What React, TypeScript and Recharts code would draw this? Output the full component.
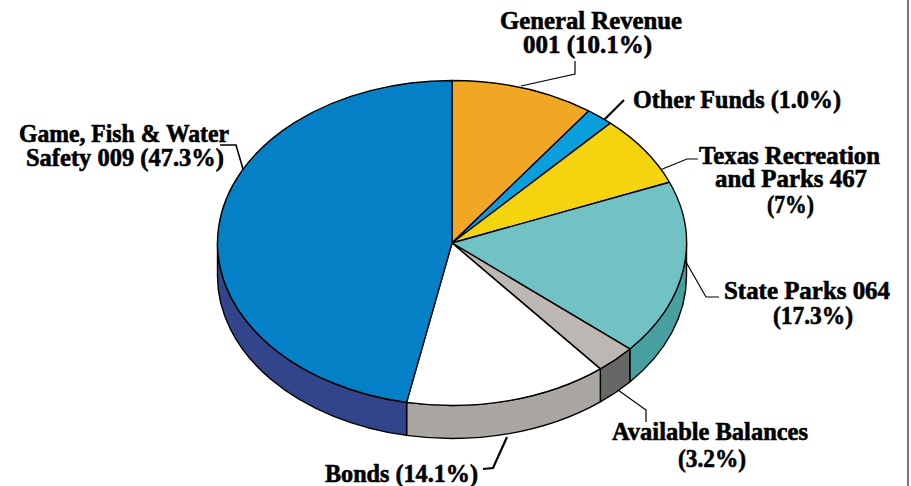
import { PieChart, Pie } from "recharts";

// Parts of the pie, clockwise from 12 o'clock
const funds = ["General Revenue", "Other Funds", "Texas Recreation", "State Parks", "Available Balances", "Bonds", "Game, Fish & Water"];
// Share each slice takes up in the drawing (the small slices are drawn a bit off their printed %)
const shares = [9.9, 1.9, 7.1, 17.4, 2.8, 14.0, 46.9];
const topColors = ["#f2a724", "#099fdc", "#f4d40f", "#70c2c5", "#bcb7b2", "#ffffff", "#0380c6"];
const sideColors = ["#c98a1c", "#0a80b0", "#c9ae0c", "#479f9f", "#666866", "#aaa6a1", "#33458a"];

const CX = 452;
const CY = 243;
const RX = 234.5;
const RY = 162.5;
const DEPTH = 33;

const topData = funds.map((name, i) => ({ name, value: shares[i], fill: topColors[i] }));
const sideData = funds.map((name, i) => ({ name, value: shares[i], fill: sideColors[i] }));

// Labels: text, x, baseline y, fitted width
const labelLines: [string, number, number, number][] = [
  ["General Revenue", 500, 28.5, 182],
  ["001 (10.1%)", 523, 52.5, 129],
  ["Other Funds (1.0%)", 633, 107.5, 208],
  ["Texas Recreation", 699, 164, 181],
  ["and Parks 467", 715, 186.5, 152],
  ["(7%)", 767, 212.5, 47],
  ["State Parks 064", 724, 298.5, 166],
  ["(17.3%)", 773, 323.5, 80],
  ["Available Balances", 612, 439.5, 196],
  ["(3.2%)", 678, 466.5, 68],
  ["Game, Fish & Water", 19, 141.5, 210],
  ["Safety 009 (47.3%)", 26, 165.5, 198],
  ["Bonds (14.1%)", 325, 481.5, 153],
];

// Leader lines: points, stroke width
const leaders: [string, number][] = [
  ["521,86 575,74 575,61", 1.2],
  ["604,120 624,100", 2.2],
  ["660,170 687,159 698,159", 1.2],
  ["686,262 706,297 719,297", 1.2],
  ["618,390 646,410 646,422", 1.2],
  ["507,437 493,468 483,469", 2.2],
  ["220,145 236,145 243,169", 1.6],
];

function pt(deg: number, cx: number, cy: number) {
  const a = (deg * Math.PI) / 180;
  return `${cx + RX * Math.cos(a)} ${cy - RY * Math.sin(a)}`;
}

// Recharts gives a round sector; squash it into the tilted ellipse
function TopSlice(props: any) {
  const { cx, cy, startAngle, endAngle, fill } = props;
  const large = Math.abs(startAngle - endAngle) > 180 ? 1 : 0;
  const d = `M${cx} ${cy} L${pt(startAngle, cx, cy)} A${RX} ${RY} 0 ${large} 1 ${pt(endAngle, cx, cy)} Z`;
  return <path d={d} fill={fill} stroke="#000" strokeWidth={1.4} strokeLinejoin="round" />;
}

// Wall under the slice, only the part on the front half of the ellipse
function SideSlice(props: any) {
  const { cx, cy, startAngle, endAngle, fill } = props;
  const hi = Math.min(startAngle, 0);
  const lo = Math.max(endAngle, -180);
  if (hi <= lo) return <g />;
  const d =
    `M${pt(hi, cx, cy)} A${RX} ${RY} 0 0 1 ${pt(lo, cx, cy)} ` +
    `L${pt(lo, cx, cy + DEPTH)} A${RX} ${RY} 0 0 0 ${pt(hi, cx, cy + DEPTH)} Z`;
  return <path d={d} fill={fill} stroke="#000" strokeWidth={1.4} strokeLinejoin="round" />;
}

export default function App() {
  return (
    <div style={{ position: "absolute", left: 0, top: 0, width: 911, height: 486, background: "#fff" }}>
      <PieChart width={911} height={486} margin={{ top: 0, right: 0, bottom: 0, left: 0 }}>
        <Pie
          data={sideData}
          dataKey="value"
          cx={CX}
          cy={CY}
          outerRadius={RX}
          startAngle={90}
          endAngle={-270}
          stroke="none"
          shape={SideSlice}
          isAnimationActive={false}
        />
        <Pie
          data={topData}
          dataKey="value"
          cx={CX}
          cy={CY}
          outerRadius={RX}
          startAngle={90}
          endAngle={-270}
          stroke="none"
          shape={TopSlice}
          isAnimationActive={false}
        />
        <g>
          {leaders.map(([points, w]) => (
            <polyline key={points} points={points} fill="none" stroke="#000" strokeWidth={w} />
          ))}
          {labelLines.map(([text, x, y, len]) => (
            <text
              key={text}
              x={x}
              y={y}
              textLength={len}
              lengthAdjust="spacingAndGlyphs"
              fontFamily="'Liberation Serif', serif"
              fontWeight="bold"
              fontSize={25}
              stroke="#000"
              strokeWidth={0.6}
              fill="#000"
            >
              {text}
            </text>
          ))}
          <line x1={908} y1={0} x2={908} y2={486} stroke="#777" strokeWidth={2} />
        </g>
      </PieChart>
    </div>
  );
}
